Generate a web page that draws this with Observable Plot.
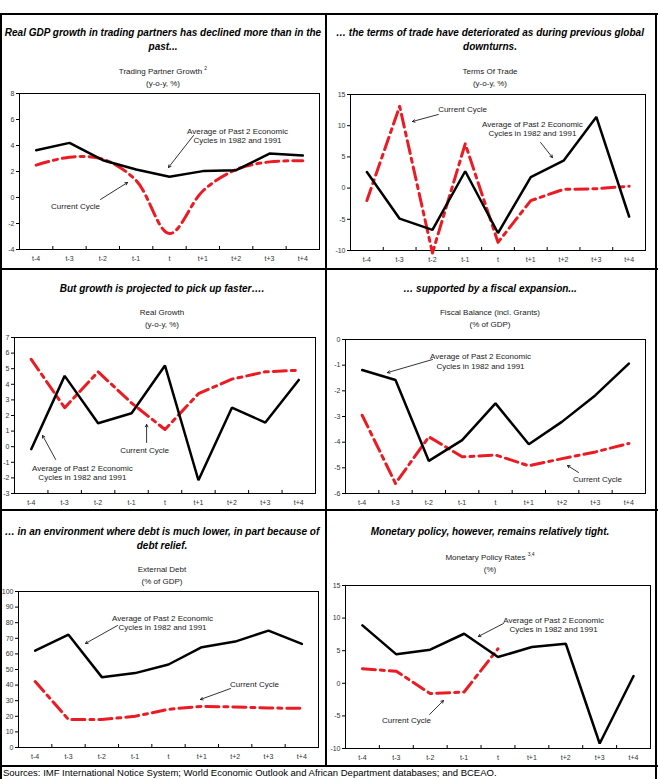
<!DOCTYPE html>
<html><head><meta charset="utf-8">
<script src="https://cdn.jsdelivr.net/npm/d3@7"></script>
<script src="https://cdn.jsdelivr.net/npm/@observablehq/plot@0.6"></script>
<style>
body{margin:0;background:#fff;font-family:Arial,"Liberation Sans",sans-serif;color:#000;}
#root{position:relative;width:660px;height:779px;overflow:hidden;background:#fff;}
.ln{position:absolute;background:#000;}
.title{position:absolute;font-weight:bold;font-style:italic;font-size:10px;line-height:13.5px;text-align:center;white-space:nowrap;transform:translateX(-50%);}
.sub{position:absolute;font-size:8px;line-height:12px;text-align:center;white-space:nowrap;transform:translateX(-50%);color:#222;}
.sub sup{font-size:5px;vertical-align:4px;line-height:0;}
.plot{position:absolute;}
.cap{position:absolute;font-size:9.5px;line-height:10px;white-space:nowrap;}
</style></head>
<body><div id="root"></div>
<script>
// ---------- data ----------
const periods = ["t-4","t-3","t-2","t-1","t","t+1","t+2","t+3","t+4"];

const tpgAverage = [3.64, 4.2, 2.87, 2.15, 1.59, 2.03, 2.1, 3.38, 3.23];
const tpgCurrent = [2.49, 3.1, 2.95, 1.3, -2.77, 0.5, 2.15, 2.74, 2.82];

const totAverage = [2.57, -4.9, -6.7, 2.7, -7.2, 1.77, 4.4, 11.4, -4.55];
const totCurrent = [-2.0, 13.1, -10.4, 7.1, -8.7, -2.0, -0.2, -0.1, 0.3];

const rgAverage = [-0.16, 4.54, 1.5, 2.14, 5.2, -2.15, 2.5, 1.55, 4.28];
const rgCurrent = [5.6, 2.5, 4.8, 2.8, 1.1, 3.4, 4.33, 4.8, 4.9];

const fbAverage = [-1.19, -1.58, -4.73, -3.92, -2.49, -4.08, -3.2, -2.17, -0.94];
const fbCurrent = [-2.95, -5.61, -3.79, -4.57, -4.5, -4.92, -4.64, -4.38, -4.05];

const edAverage = [62.1, 72.3, 45.1, 47.7, 53.2, 64.3, 67.9, 74.9, 66.4];
const edCurrent = [42.3, 17.9, 17.9, 20, 24.5, 26.4, 26, 25.3, 25.1];

const mprAverage = [8.88, 4.44, 5.15, 7.6, 4.03, 5.56, 6.07, -9.23, 1.12];
const mprCurrent = [2.24, 1.84, -1.58, -1.33, 5.3, null, null, null, null];

const tpgTicks = [-4, -2, 0, 2, 4, 6, 8];
const totTicks = [-10, -5, 0, 5, 10, 15];
const rgTicks = [-3, -2, -1, 0, 1, 2, 3, 4, 5, 6, 7];
const fbTicks = [-6, -5, -4, -3, -2, -1, 0];
const edTicks = [0, 10, 20, 30, 40, 50, 60, 70, 80, 90, 100];
const mprTicks = [-10, -5, 0, 5, 10, 15];

const AVG = "Average of Past 2 Economic\nCycles in 1982 and 1991";
const CUR = "Current Cycle";

// annotations (data coordinates)
const tpgNotes = [{x: 6.04, y: 4.77, text: AVG}, {x: 1.18, y: -0.62, text: CUR}];
const tpgArrows = [{x1: 4.72, y1: 4.77, x2: 3.97, y2: 2.31}, {x1: 1.93, y1: -0.15, x2: 2.74, y2: 1.15}];
const totNotes = [{x: 5.05, y: 9.55, text: AVG}, {x: 2.92, y: 12.76, text: CUR}];
const totArrows = [{x1: 5.3, y1: 7.31, x2: 5.66, y2: 4.9}, {x1: 2.18, y1: 11.8, x2: 1.39, y2: 10.67}];
const rgNotes = [{x: 1.53, y: -1.65, text: AVG}, {x: 3.39, y: -0.18, text: CUR}];
const rgArrows = [{x1: 0.73, y1: -0.82, x2: 0.34, y2: 0.72}, {x1: 3.45, y1: 0.27, x2: 3.45, y2: 1.42}];
const fbNotes = [{x: 3.55, y: -0.84, text: AVG}, {x: 7.06, y: -5.45, text: CUR}];
const fbArrows = [{x1: 2.11, y1: -0.78, x2: 0.76, y2: -1.29}, {x1: 6.49, y1: -5.18, x2: 6.16, y2: -4.91}];
const edNotes = [{x: 3.82, y: 80.3, text: AVG}, {x: 6.58, y: 41, text: CUR}];
const edArrows = [{x1: 2.47, y1: 78.2, x2: 1.51, y2: 66.7}, {x1: 5.86, y1: 37.8, x2: 4.96, y2: 30.8}];
const mprNotes = [{x: 5.64, y: 9.02, text: AVG}, {x: 1.3, y: -5.55, text: CUR}];
const mprArrows = [{x1: 4.16, y1: 9.17, x2: 3.42, y2: 7.18}, {x1: 1.98, y1: -4.79, x2: 2.39, y2: -2.64}];

// ---------- layout ----------
const root = document.getElementById("root");
function line(x, y, w, h) {
  const d = document.createElement("div");
  d.className = "ln";
  Object.assign(d.style, {left: x + "px", top: y + "px", width: w + "px", height: h + "px"});
  root.appendChild(d);
}
line(0, 13, 658, 2);
line(0, 13, 2, 766);
line(655, 13, 2, 766);
line(325, 13, 2, 753);
line(0, 268, 658, 2);
line(0, 509, 658, 2);
line(0, 765, 658, 2);

function html(cls, x, y, content) {
  const d = document.createElement("div");
  d.className = cls;
  d.style.left = x + "px";
  d.style.top = y + "px";
  d.innerHTML = content;
  root.appendChild(d);
}

function panel(o) {
  html("title", o.cx, o.titleTop, o.title);
  html("sub", o.cx, o.subTop, o.sub);
  const yd = o.yDomain;
  const tickLen = (yd[1] - yd[0]) * 3 / (o.fb - o.ft);
  const svg = Plot.plot({
    width: o.pw,
    height: o.fb - o.ft + 24,
    marginTop: 8,
    marginBottom: 16,
    marginLeft: o.fl - o.px,
    marginRight: o.px + o.pw - o.fr,
    x: {domain: [-0.5, 8.5], axis: null},
    y: {domain: yd, axis: null},
    style: {fontFamily: "Arial, 'Liberation Sans', sans-serif", fontSize: "7px", background: "transparent", overflow: "visible", color: "#000"},
    marks: [
      Plot.frame({stroke: "#000", strokeWidth: 1}),
      Plot.axisY({ticks: o.yTicks, tickSize: 3, tickPadding: 2, tickFormat: d => String(d), label: null, fill: "#333"}),
      Plot.axisX({ticks: d3.range(9), tickSize: 0, tickPadding: 7, tickFormat: d => periods[d], label: null, fill: "#333"}),
      Plot.ruleX(d3.range(0.5, 8, 1), {y1: yd[0], y2: yd[0] + tickLen, stroke: "#000", strokeWidth: 1}),
      Plot.line(o.cur, {x: (d, i) => i, y: d => d, stroke: "#ec1b23", strokeWidth: 3, strokeDasharray: "13,5,4,5", curve: o.curve || "linear"}),
      Plot.line(o.avg, {x: (d, i) => i, y: d => d, stroke: "#000", strokeWidth: 2.5, strokeLinejoin: "miter"}),
      Plot.text(o.notes, {x: "x", y: "y", text: "text", fontSize: 8, lineHeight: 1.2, fill: "#222"}),
      Plot.arrow(o.arrows, {x1: "x1", y1: "y1", x2: "x2", y2: "y2", headLength: 5, stroke: "#000", strokeWidth: 0.8})
    ]
  });
  svg.classList.add("plot");
  svg.style.left = o.px + "px";
  svg.style.top = (o.ft - 8) + "px";
  root.appendChild(svg);
}

panel({px: 0, pw: 326, fl: 19, fr: 319, ft: 93, fb: 249, cx: 163, titleTop: 26, subTop: 66,
  title: "Real GDP growth in trading partners has declined more than in the<br>past...",
  sub: "Trading Partner Growth <sup>2</sup><br>(y-o-y, %)",
  yDomain: [-4, 8], yTicks: tpgTicks, avg: tpgAverage, cur: tpgCurrent, curve: "catmull-rom",
  notes: tpgNotes, arrows: tpgArrows});

panel({px: 327, pw: 330, fl: 350, fr: 645, ft: 94, fb: 250, cx: 490, titleTop: 26, subTop: 66,
  title: "… the terms of trade have deteriorated as during previous global<br>downturns.",
  sub: "Terms Of Trade<br>(y-o-y, %)",
  yDomain: [-10, 15], yTicks: totTicks, avg: totAverage, cur: totCurrent,
  notes: totNotes, arrows: totArrows});

panel({px: 0, pw: 326, fl: 14, fr: 315, ft: 337, fb: 493, cx: 162, titleTop: 282, subTop: 307,
  title: "But growth is projected to pick up faster….",
  sub: "Real Growth<br>(y-o-y, %)",
  yDomain: [-3, 7], yTicks: rgTicks, avg: rgAverage, cur: rgCurrent,
  notes: rgNotes, arrows: rgArrows});

panel({px: 327, pw: 330, fl: 345, fr: 645, ft: 339, fb: 493, cx: 490, titleTop: 282, subTop: 307,
  title: "… supported by a fiscal expansion...",
  sub: "Fiscal Balance (incl. Grants)<br>(% of GDP)",
  yDomain: [-6, 0], yTicks: fbTicks, avg: fbAverage, cur: fbCurrent,
  notes: fbNotes, arrows: fbArrows});

panel({px: 0, pw: 326, fl: 18, fr: 318, ft: 591, fb: 747, cx: 162, titleTop: 525, subTop: 564,
  title: "… in an environment where debt is much lower, in part because of<br>debt relief.",
  sub: "External Debt<br>(% of GDP)",
  yDomain: [0, 100], yTicks: edTicks, avg: edAverage, cur: edCurrent,
  notes: edNotes, arrows: edArrows});

panel({px: 327, pw: 330, fl: 345, fr: 650, ft: 585, fb: 748, cx: 490, titleTop: 525, subTop: 552,
  title: "Monetary policy, however, remains relatively tight.",
  sub: "Monetary Policy Rates <sup>3,4</sup><br>(%)",
  yDomain: [-10, 15], yTicks: mprTicks, avg: mprAverage, cur: mprCurrent,
  notes: mprNotes, arrows: mprArrows});

html("cap", 3, 768, "Sources: IMF International Notice System; World Economic Outlook and African Department databases; and BCEAO.");
</script>
</body></html>
